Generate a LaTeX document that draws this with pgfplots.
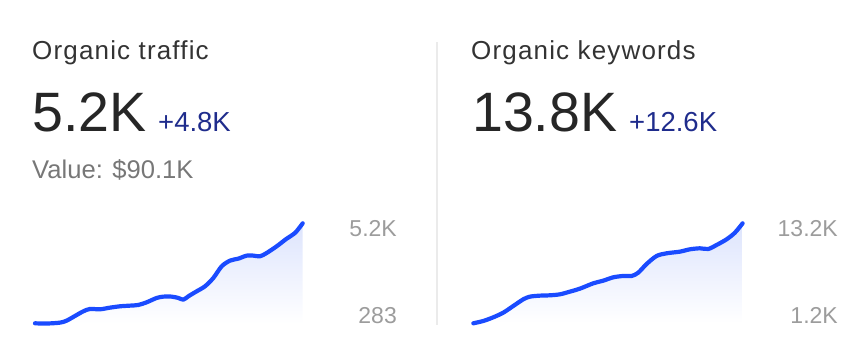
\documentclass[border=0pt]{standalone}
\usepackage{fontspec}
\setmainfont{Liberation Sans}
\newfontfamily\titlefont[LetterSpace=4.5]{Liberation Sans}
\usepackage{pgfplots}
\usepackage{pgfplotstable}
\pgfplotsset{compat=1.18}
\definecolor{linecol}{HTML}{1A4BFF}
\definecolor{fillcol}{HTML}{DDE4FD}
\definecolor{titlecol}{HTML}{333333}
\definecolor{numcol}{HTML}{262626}
\definecolor{deltacol}{HTML}{1F2C8C}
\definecolor{valcol}{HTML}{777777}
\definecolor{labcol}{HTML}{9C9C9C}
\definecolor{divcol}{HTML}{EBEBEB}

\pgfplotstableread{
x y
45 283
80 272
120 316
140 414
165 644
190 873
210 988
240 971
270 1053
300 1119
330 1152
355 1185
380 1316
410 1529
430 1594
455 1594
475 1529
490 1447
505 1611
530 1857
555 2103
580 2513
605 3086
630 3365
655 3463
680 3611
700 3611
720 3578
740 3742
770 4070
800 4446
825 4725
848 5200
}\traffic

\pgfplotstableread{
x y
40 1200
70 1480
100 1920
130 2480
160 3280
190 4080
210 4400
240 4520
270 4560
300 4680
330 5000
360 5360
400 6000
430 6320
460 6720
490 6880
515 6880
535 7280
560 8320
590 9280
620 9600
660 9800
690 10080
720 10200
745 10120
770 10600
800 11280
825 12080
848 13200
}\keywords

\begin{document}
\begin{tikzpicture}[x=1pt,y=1pt]
\path[use as bounding box] (0,0) rectangle (856,360);

% divider
\draw[divcol, line width=1.5pt] (437,318) -- (437,35);

% left texts
\node[anchor=base west, inner sep=0, text=titlecol] at (32,300.5) {\titlefont\fontsize{26}{30}\selectfont Organic traffic};
\node[anchor=base west, inner sep=0, text=numcol] at (32,228.3) {\fontsize{55.5}{60}\selectfont 5.2K};
\node[anchor=base west, inner sep=0, text=deltacol] at (158,228.3) {\fontsize{27.5}{32}\selectfont +4.8K};
\node[anchor=base west, inner sep=0, text=valcol] at (32,181.7) {\fontsize{25.6}{30}\selectfont Value: \$90.1K};

% right texts
\node[anchor=base west, inner sep=0, text=titlecol] at (471,300.5) {\titlefont\fontsize{26}{30}\selectfont Organic keywords};
\node[anchor=base west, inner sep=0, text=numcol] at (472,228.3) {\fontsize{55.5}{60}\selectfont 13.8K};
\node[anchor=base west, inner sep=0, text=deltacol] at (629,228.3) {\fontsize{27.5}{32}\selectfont +12.6K};

% sparkline labels
\node[anchor=base east, inner sep=0, text=labcol] at (397,124) {\fontsize{23}{28}\selectfont 5.2K};
\node[anchor=base east, inner sep=0, text=labcol] at (397,36.7) {\fontsize{23}{28}\selectfont 283};
\node[anchor=base east, inner sep=0, text=labcol] at (838,124) {\fontsize{23}{28}\selectfont 13.2K};
\node[anchor=base east, inner sep=0, text=labcol] at (838,36.7) {\fontsize{23}{28}\selectfont 1.2K};

\begin{axis}[at={(35pt,36.7pt)}, anchor=south west, scale only axis,
  width=267.7pt, height=100pt, xmin=45, xmax=848, ymin=283, ymax=5200,
  hide axis, clip=false]
\addplot[draw=none, top color=fillcol, bottom color=white] table[x=x,y=y] {\traffic}
  -- (axis cs:848,283) -- (axis cs:45,283) -- cycle;
\addplot[linecol, line width=4.2pt, smooth, tension=0.5, line cap=round, line join=round, no marks] table[x=x,y=y] {\traffic};
\end{axis}

\begin{axis}[at={(473.3pt,36.7pt)}, anchor=south west, scale only axis,
  width=269.3pt, height=100pt, xmin=40, xmax=848, ymin=1200, ymax=13200,
  hide axis, clip=false]
\addplot[draw=none, top color=fillcol, bottom color=white] table[x=x,y=y] {\keywords}
  -- (axis cs:848,1200) -- (axis cs:40,1200) -- cycle;
\addplot[linecol, line width=4.2pt, smooth, tension=0.5, line cap=round, line join=round, no marks] table[x=x,y=y] {\keywords};
\end{axis}
\end{tikzpicture}
\end{document}
